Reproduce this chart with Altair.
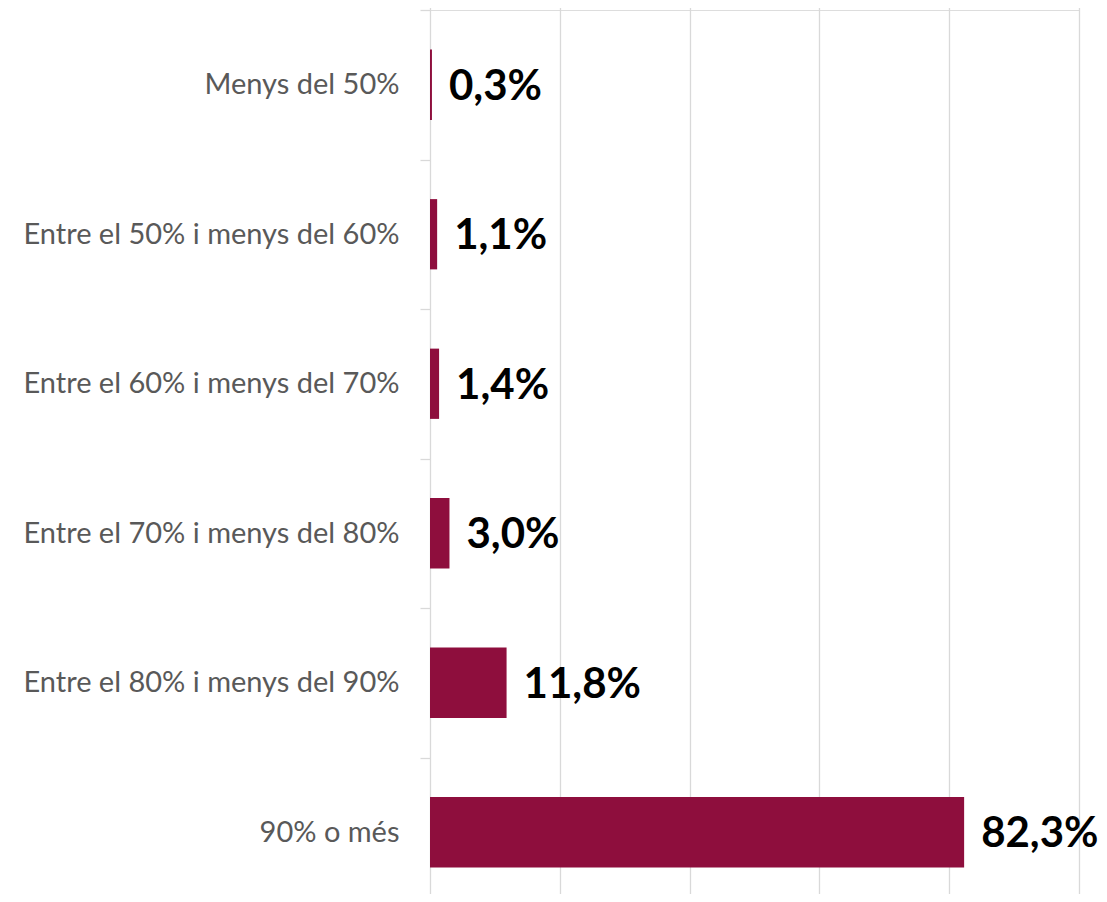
import altair as alt
import pandas as pd

categories = [
    "Menys del 50%",
    "Entre el 50% i menys del 60%",
    "Entre el 60% i menys del 70%",
    "Entre el 70% i menys del 80%",
    "Entre el 80% i menys del 90%",
    "90% o més",
]
values = [0.3, 1.1, 1.4, 3.0, 11.8, 82.3]
labels = ["0,3%", "1,1%", "1,4%", "3,0%", "11,8%", "82,3%"]

df = pd.DataFrame({"cat": categories, "val": values, "lab": labels})

step = 149.5
yscale = alt.Scale(domain=categories, range=[0, step * 6],
                   paddingInner=0.53, paddingOuter=0.265)
xscale = alt.Scale(domain=[0, 100], nice=False)

base = alt.Chart(df)

bars = base.mark_bar(color="#8E0E3D").encode(
    x=alt.X("val:Q", scale=xscale,
            axis=alt.Axis(values=[0, 20, 40, 60, 80, 100], labels=False, ticks=False,
                          domain=False, grid=True, gridColor="#d9d9d9", gridWidth=1.3,
                          title=None)),
    y=alt.Y("cat:N", scale=yscale, sort=categories,
            axis=alt.Axis(title=None, domain=False, ticks=True, tickSize=10,
                          tickColor="#d9d9d9", tickWidth=1.3,
                          tickOffset=-step / 2, labelOffset=step / 2,
                          labelFont="Lato", labelFontSize=29, labelColor="#595959",
                          labelPadding=21, labelLimit=500, grid=False)),
)

text = base.mark_text(align="left", baseline="middle", dx=17, dy=2, font="Lato",
                      fontWeight="bold", fontSize=42, color="#000000").encode(
    x=alt.X("val:Q", scale=xscale),
    y=alt.Y("cat:N", scale=yscale, sort=categories),
    text="lab:N",
)

chart = (bars + text).properties(
    width=649, height=884,
    autosize=alt.AutoSizeParams(type="none"),
    padding={"left": 422, "top": 2, "right": 20, "bottom": 0},
).configure_view(stroke=None).configure(background="white")

chart.save("out.html", embed_options={"renderer": "svg", "actions": False})
